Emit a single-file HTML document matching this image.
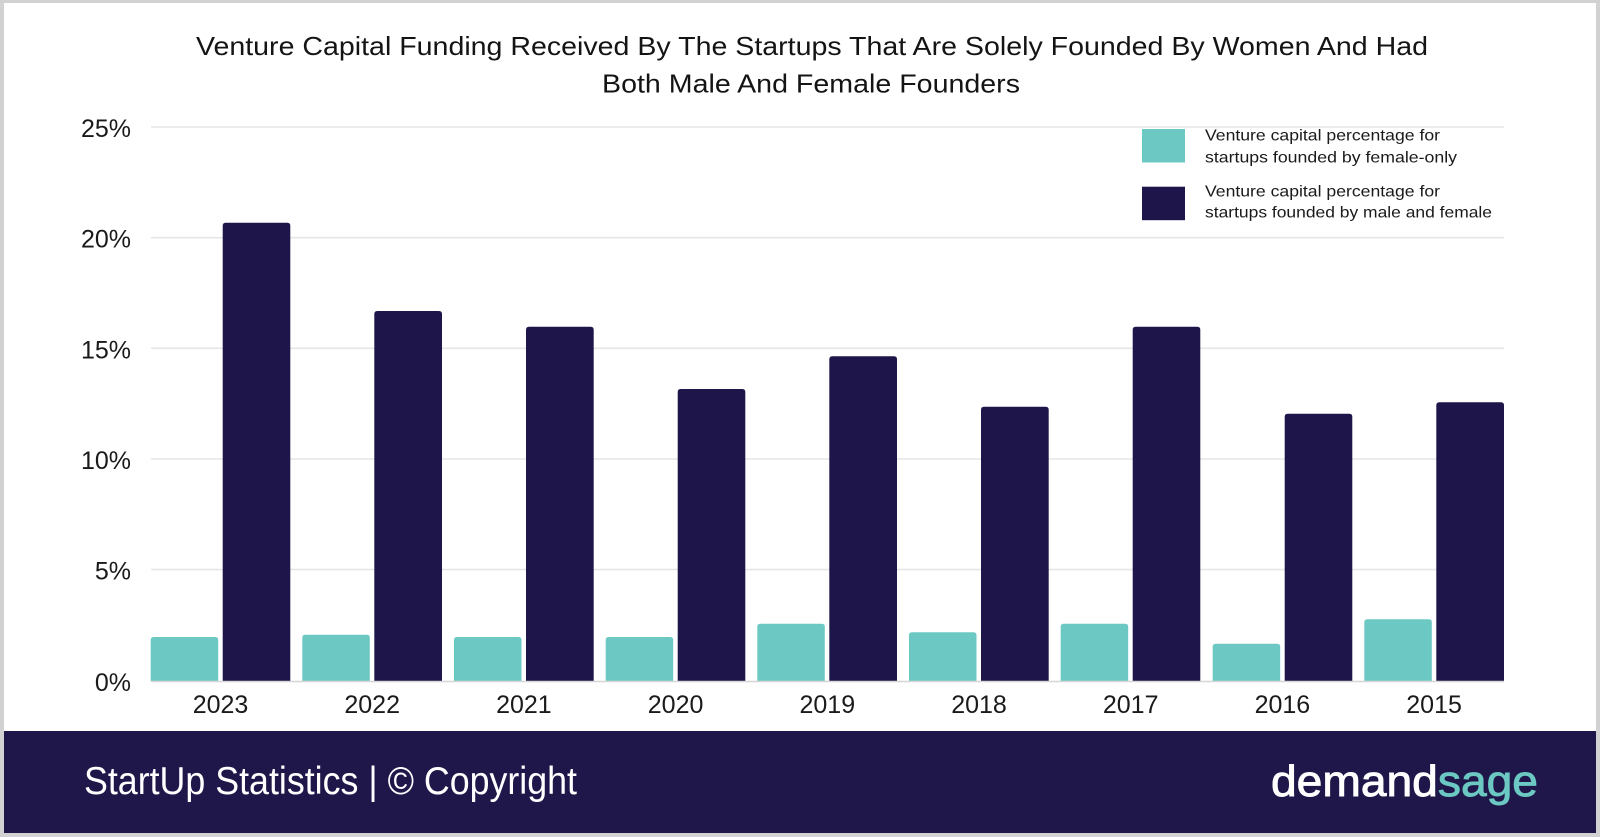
<!DOCTYPE html>
<html><head><meta charset="utf-8"><style>
html,body{margin:0;padding:0;background:#fff;}
svg{display:block;}
</style></head><body>
<svg width="1600" height="837" viewBox="0 0 1600 837" xmlns="http://www.w3.org/2000/svg" font-family="'Liberation Sans', sans-serif">
<rect x="0" y="0" width="1600" height="837" fill="#d2d2d2"/>
<rect x="4" y="3" width="1592" height="830" fill="#ffffff"/>
<!-- title -->
<text x="196" y="55" font-size="26" fill="#141414" textLength="1232" lengthAdjust="spacingAndGlyphs">Venture Capital Funding Received By The Startups That Are Solely Founded By Women And Had</text>
<text x="602" y="92.5" font-size="26" fill="#141414" textLength="418" lengthAdjust="spacingAndGlyphs">Both Male And Female Founders</text>
<!-- gridlines -->
<g stroke="#e6e6e6" stroke-width="1.6">
<line x1="151" y1="127" x2="1504" y2="127"/>
<line x1="151" y1="237.7" x2="1504" y2="237.7"/>
<line x1="151" y1="348.3" x2="1504" y2="348.3"/>
<line x1="151" y1="459" x2="1504" y2="459"/>
<line x1="151" y1="569.6" x2="1504" y2="569.6"/>
</g>
<!-- y labels -->
<g font-size="25" fill="#1a1a1a" text-anchor="end">
<text x="131" y="137">25%</text>
<text x="131" y="247.7">20%</text>
<text x="131" y="358.3">15%</text>
<text x="131" y="469">10%</text>
<text x="131" y="579.6">5%</text>
<text x="131" y="691">0%</text>
</g>
<!-- bars -->
<g fill="#6cc8c2">
<path d="M150.7,681 V640 Q150.7,637 153.7,637 H215.2 Q218.2,637 218.2,640 V681 Z"/>
<path d="M302.3,681 V637.7 Q302.3,634.7 305.3,634.7 H366.8 Q369.8,634.7 369.8,637.7 V681 Z"/>
<path d="M454,681 V640 Q454,637 457,637 H518.5 Q521.5,637 521.5,640 V681 Z"/>
<path d="M605.7,681 V640 Q605.7,637 608.7,637 H670.2 Q673.2,637 673.2,640 V681 Z"/>
<path d="M757.3,681 V626.7 Q757.3,623.7 760.3,623.7 H821.8 Q824.8,623.7 824.8,626.7 V681 Z"/>
<path d="M909,681 V635.3 Q909,632.3 912,632.3 H973.5 Q976.5,632.3 976.5,635.3 V681 Z"/>
<path d="M1060.7,681 V626.7 Q1060.7,623.7 1063.7,623.7 H1125.2 Q1128.2,623.7 1128.2,626.7 V681 Z"/>
<path d="M1212.7,681 V646.7 Q1212.7,643.7 1215.7,643.7 H1277.2 Q1280.2,643.7 1280.2,646.7 V681 Z"/>
<path d="M1364.3,681 V622.3 Q1364.3,619.3 1367.3,619.3 H1428.8 Q1431.8,619.3 1431.8,622.3 V681 Z"/>
</g>
<g fill="#1e164a">
<path d="M222.7,681 V225.7 Q222.7,222.7 225.7,222.7 H287.3 Q290.3,222.7 290.3,225.7 V681 Z"/>
<path d="M374.3,681 V314 Q374.3,311 377.3,311 H439 Q442,311 442,314 V681 Z"/>
<path d="M526,681 V329.7 Q526,326.7 529,326.7 H590.7 Q593.7,326.7 593.7,329.7 V681 Z"/>
<path d="M677.7,681 V392 Q677.7,389 680.7,389 H742.3 Q745.3,389 745.3,392 V681 Z"/>
<path d="M829.3,681 V359.3 Q829.3,356.3 832.3,356.3 H894 Q897,356.3 897,359.3 V681 Z"/>
<path d="M981,681 V409.7 Q981,406.7 984,406.7 H1045.7 Q1048.7,406.7 1048.7,409.7 V681 Z"/>
<path d="M1132.7,681 V329.7 Q1132.7,326.7 1135.7,326.7 H1197.3 Q1200.3,326.7 1200.3,329.7 V681 Z"/>
<path d="M1284.7,681 V416.7 Q1284.7,413.7 1287.7,413.7 H1349.3 Q1352.3,413.7 1352.3,416.7 V681 Z"/>
<path d="M1436.3,681 V405.3 Q1436.3,402.3 1439.3,402.3 H1501 Q1504,402.3 1504,405.3 V681 Z"/>
</g>
<line x1="151" y1="681.5" x2="1504" y2="681.5" stroke="#d6d6d6" stroke-width="1.6"/>
<!-- x labels -->
<g font-size="25" fill="#1a1a1a" text-anchor="middle">
<text x="220.5" y="713">2023</text>
<text x="372.2" y="713">2022</text>
<text x="523.9" y="713">2021</text>
<text x="675.6" y="713">2020</text>
<text x="827.3" y="713">2019</text>
<text x="979" y="713">2018</text>
<text x="1130.7" y="713">2017</text>
<text x="1282.4" y="713">2016</text>
<text x="1434.1" y="713">2015</text>
</g>
<!-- legend -->
<rect x="1142" y="129" width="43" height="33.5" fill="#6cc8c2"/>
<rect x="1142" y="186.7" width="43" height="33.5" fill="#1e164a"/>
<g font-size="16" fill="#1a1a1a">
<text x="1205" y="140.7" textLength="235" lengthAdjust="spacingAndGlyphs">Venture capital percentage for</text>
<text x="1205" y="162.3" textLength="252" lengthAdjust="spacingAndGlyphs">startups founded by female-only</text>
<text x="1205" y="196.7" textLength="235" lengthAdjust="spacingAndGlyphs">Venture capital percentage for</text>
<text x="1205" y="217.3" textLength="287" lengthAdjust="spacingAndGlyphs">startups founded by male and female</text>
</g>
<!-- footer -->
<rect x="4" y="731" width="1592" height="102" fill="#1f174a"/>
<text x="84" y="794" font-size="39" fill="#ffffff" textLength="493" lengthAdjust="spacingAndGlyphs">StartUp Statistics | © Copyright</text>
<text x="1271" y="796" font-size="44" textLength="267" lengthAdjust="spacingAndGlyphs" stroke-width="0.9"><tspan fill="#ffffff" stroke="#ffffff">demand</tspan><tspan fill="#6cc8c2" stroke="#6cc8c2">sage</tspan></text>
</svg>
</body></html>
